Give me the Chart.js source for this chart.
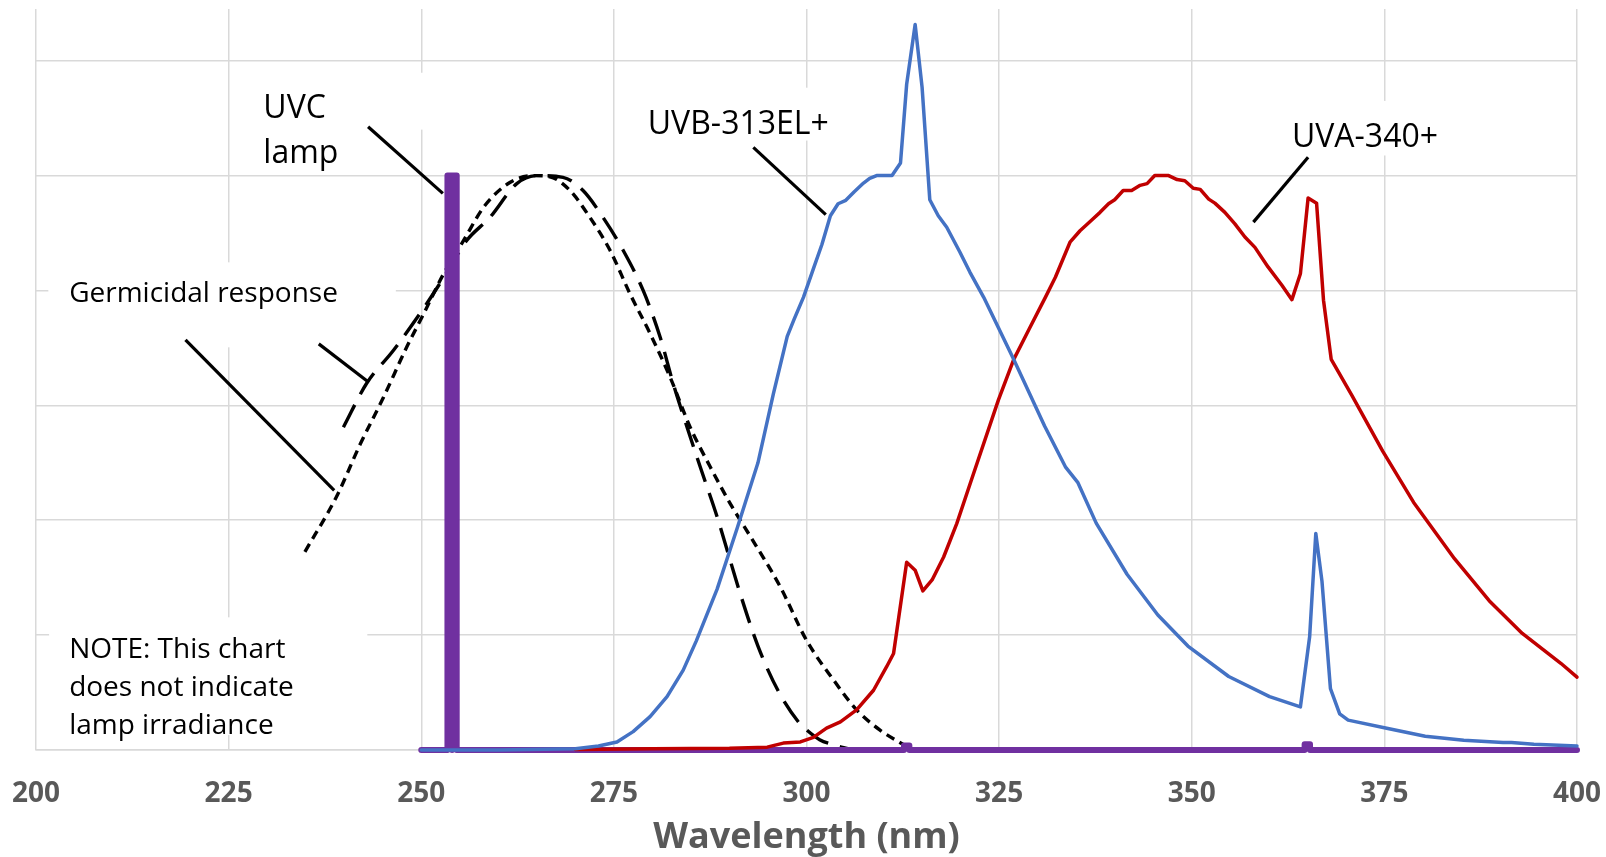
<!DOCTYPE html>
<html>
<head>
<meta charset="utf-8">
<script src="https://cdn.jsdelivr.net/npm/chart.js@4/dist/chart.umd.min.js"></script>
<style>
  html, body { margin: 0; padding: 0; background: #fff; }
  #wrap { width: 1606px; height: 857px; position: relative; }
</style>
</head>
<body>
<div id="wrap"><canvas id="myChart"></canvas></div>
<script>
// UVB-313EL+ lamp spectrum (relative)
var uvbNm  = [250, 260, 270, 273, 275.4, 277.5, 279.7, 281.9, 284, 285.7, 288.4, 291, 293.7, 295.7, 297.5, 298.4, 299.6, 300.9, 302, 303.1, 304.1, 305.1, 306.2, 307.4, 308.2, 309.1, 311.1, 312.2, 313, 314.1, 315, 316, 317.1, 318.2, 319.9, 321.2, 323, 326.9, 330.9, 333.6, 335.2, 337.6, 341.6, 345.6, 349.5, 354.8, 360.1, 364.1, 365.3, 366.1, 366.9, 368, 369.2, 370.3, 375.3, 380.3, 385.3, 390.4, 391.5, 394.4, 400];
var uvbVal = [0, 0, 0.002, 0.007, 0.014, 0.032, 0.058, 0.093, 0.139, 0.19, 0.28, 0.386, 0.5, 0.62, 0.72, 0.75, 0.788, 0.838, 0.88, 0.93, 0.951, 0.957, 0.972, 0.987, 0.995, 1, 1, 1.022, 1.159, 1.263, 1.154, 0.958, 0.93, 0.91, 0.867, 0.832, 0.788, 0.68, 0.564, 0.493, 0.466, 0.395, 0.306, 0.235, 0.181, 0.128, 0.093, 0.075, 0.197, 0.377, 0.294, 0.107, 0.063, 0.052, 0.038, 0.024, 0.017, 0.013, 0.013, 0.01, 0.007];

// UVA-340+ lamp spectrum (relative)
var uvaNm  = [270, 280, 290, 294.9, 297, 299.2, 300.9, 302.6, 304.4, 306.5, 308.7, 310.4, 311.3, 313, 314.1, 315.1, 316.3, 317.8, 319.5, 321.4, 324.9, 326.9, 328.9, 331, 332.3, 334.2, 335.5, 337.2, 338.1, 339.2, 340, 341.1, 342.2, 343.3, 344.2, 345.2, 347, 348.1, 349.1, 350.2, 351.1, 352.2, 353, 354.3, 355.6, 356.9, 358.2, 359.9, 361.7, 363, 364.1, 365.1, 366.2, 367.1, 368.1, 370.8, 374.8, 378.8, 384.1, 388.6, 392.9, 397.9, 400];
var uvaVal = [0.001, 0.002, 0.003, 0.005, 0.012, 0.014, 0.022, 0.038, 0.049, 0.07, 0.104, 0.145, 0.168, 0.327, 0.313, 0.277, 0.296, 0.336, 0.394, 0.47, 0.609, 0.68, 0.733, 0.788, 0.823, 0.884, 0.904, 0.925, 0.936, 0.951, 0.958, 0.974, 0.974, 0.983, 0.986, 1, 1, 0.993, 0.991, 0.978, 0.976, 0.959, 0.952, 0.936, 0.916, 0.893, 0.875, 0.841, 0.809, 0.784, 0.829, 0.961, 0.952, 0.783, 0.68, 0.617, 0.52, 0.431, 0.333, 0.26, 0.203, 0.151, 0.127];

// UVC lamp lines (254, 313, 365 nm)
var uvcNm  = [250, 253.4, 253.4, 254, 254, 254, 254.6, 254.6, 312.65, 312.65, 313.35, 313.35, 364.65, 364.65, 365.35, 365.35, 400];
var uvcVal = [0, 0, 1, 1, 0, 1, 1, 0, 0, 0.008, 0.008, 0, 0, 0.01, 0.01, 0, 0];

// germicidal response, two curves
var germANm  = [234.9, 239, 242.1, 245.1, 248.1, 250.3, 252.9, 255.5, 258.1, 261.5, 264.6, 266.7, 269.3, 271.9, 274.5, 277.1, 279.7, 282.3, 284.9, 287.5, 290.1, 292.7, 296.6, 300, 303.5, 306.5, 309.5, 313];
var germAVal = [0.345, 0.441, 0.533, 0.614, 0.701, 0.759, 0.829, 0.887, 0.945, 0.988, 1, 0.998, 0.974, 0.927, 0.87, 0.794, 0.725, 0.649, 0.562, 0.493, 0.429, 0.372, 0.284, 0.191, 0.122, 0.07, 0.035, 0.006];
var germBNm  = [239.9, 242.9, 246.4, 249.8, 252.8, 255.9, 258.9, 262.4, 265, 268.4, 271, 273.6, 276.2, 278.8, 281, 282.7, 284.5, 286.2, 288.4, 290.1, 291.4, 293.7, 296.4, 299, 300, 301.7, 303.5, 305.5];
var germBVal = [0.562, 0.638, 0.696, 0.759, 0.82, 0.887, 0.927, 0.986, 1, 0.997, 0.974, 0.927, 0.87, 0.8, 0.719, 0.638, 0.562, 0.493, 0.406, 0.33, 0.272, 0.181, 0.101, 0.048, 0.035, 0.018, 0.009, 0.002];

var xTicks = [200, 225, 250, 275, 300, 325, 350, 375, 400];
var yGrid  = [0, 0.2, 0.4, 0.6, 0.8, 1.0, 1.2];

// text labels and leader lines, placed in data units
var labelText = [["UVC", "lamp"], ["UVB-313EL+"], ["UVA-340+"], ["Germicidal response"], ["NOTE: This chart", "does not indicate", "lamp irradiance"]];
var labelNm   = [229.5, 279.4, 363.0, 204.3, 204.3];
var labelVal  = [1.101, 1.073, 1.050, 0.78, 0.16];
var labelSize = [32, 32, 32, 28, 28];
var labelGap  = [45, 0, 0, 0, 38];
var leaders = [
  [243.1, 1.085, 252.8, 0.969],
  [236.7, 0.707, 243.1, 0.641],
  [219.4, 0.714, 238.7, 0.452],
  [293.1, 1.049, 302.5, 0.932],
  [365.1, 1.032, 358.0, 0.919]
];
// white text boxes that hide the grid
var boxes = [
  [227.1, 1.179, 252.5, 1.08],
  [201.6, 0.849, 246.7, 0.701],
  [201.7, 0.231, 243.0, 0.026],
  [278.4, 1.153, 303.3, 1.061],
  [361.5, 1.130, 383.5, 1.035]
];

function pts(xs, ys) {
  return xs.map(function (v, i) { return { x: v, y: ys[i] }; });
}

var notes = {
  id: 'notes',
  beforeDatasetsDraw: function (chart) {
    var ctx = chart.ctx, x = chart.scales.x, y = chart.scales.y;
    ctx.save();
    ctx.fillStyle = '#ffffff';
    boxes.forEach(function (b) {
      var x1 = x.getPixelForValue(b[0]), y1 = y.getPixelForValue(b[1]);
      var x2 = x.getPixelForValue(b[2]), y2 = y.getPixelForValue(b[3]);
      ctx.fillRect(x1, y1, x2 - x1, y2 - y1);
    });
    ctx.restore();
  },
  afterDatasetsDraw: function (chart) {
    var ctx = chart.ctx, x = chart.scales.x, y = chart.scales.y;
    ctx.save();
    ctx.strokeStyle = '#000';
    ctx.lineWidth = 3.2;
    leaders.forEach(function (l) {
      ctx.beginPath();
      ctx.moveTo(x.getPixelForValue(l[0]), y.getPixelForValue(l[1]));
      ctx.lineTo(x.getPixelForValue(l[2]), y.getPixelForValue(l[3]));
      ctx.stroke();
    });
    ctx.fillStyle = '#000';
    ctx.textBaseline = 'alphabetic';
    ctx.textAlign = 'left';
    labelText.forEach(function (lines, i) {
      ctx.font = labelSize[i] + 'px "Open Sans"';
      var px = x.getPixelForValue(labelNm[i]);
      var py = y.getPixelForValue(labelVal[i]);
      lines.forEach(function (t, j) {
        ctx.fillText(t, px, py + j * labelGap[i]);
      });
    });
    ctx.restore();
  }
};

new Chart("myChart", {
  type: "scatter",
  data: {
    datasets: [
      { label: "UVB-313EL+", data: pts(uvbNm, uvbVal), showLine: true, borderColor: "#4472c4", borderWidth: 3.5, pointRadius: 0, borderCapStyle: "round", borderJoinStyle: "round", clip: false },
      { label: "UVA-340+", data: pts(uvaNm, uvaVal), showLine: true, borderColor: "#c00000", borderWidth: 3.5, pointRadius: 0, borderCapStyle: "round", borderJoinStyle: "round", clip: false },
      { label: "UVC lamp", data: pts(uvcNm, uvcVal), showLine: true, borderColor: "#7030a0", borderWidth: 6, pointRadius: 0, borderCapStyle: "round", borderJoinStyle: "round", clip: false },
      { label: "Germicidal A", data: pts(germANm, germAVal), showLine: true, borderColor: "#000", borderWidth: 3.4, borderDash: [9, 6], pointRadius: 0, cubicInterpolationMode: "monotone" },
      { label: "Germicidal B", data: pts(germBNm, germBVal), showLine: true, borderColor: "#000", borderWidth: 3.4, borderDash: [25, 12], pointRadius: 0, cubicInterpolationMode: "monotone" }
    ]
  },
  options: {
    responsive: true,
    maintainAspectRatio: false,
    animation: false,
    layout: { padding: { left: 36, right: 29, top: 9, bottom: 0 } },
    plugins: {
      legend: { display: false },
      tooltip: { enabled: false }
    },
    scales: {
      x: {
        type: "linear",
        min: 200,
        max: 400,
        afterBuildTicks: function (s) { s.ticks = xTicks.map(function (v) { return { value: v }; }); },
        afterFit: function (s) { s.paddingLeft = 0; s.paddingRight = 0; s.height = 107; },
        grid: { color: "#d9d9d9", lineWidth: 1.5, drawTicks: false },
        border: { color: "#d9d9d9", width: 1.5 },
        ticks: { color: "#595959", padding: 27, maxRotation: 0, font: { family: "Open Sans", size: 28, weight: "bold" } },
        title: { display: true, text: "Wavelength (nm)", color: "#595959", padding: { top: 4, bottom: -2 }, font: { family: "Open Sans", size: 36, weight: "bold" } }
      },
      y: {
        min: 0,
        max: 1.29,
        afterBuildTicks: function (s) { s.ticks = yGrid.map(function (v) { return { value: v }; }); },
        afterFit: function (s) { s.width = 0; },
        grid: { color: "#d9d9d9", lineWidth: 1.5, drawTicks: false },
        border: { display: false },
        ticks: { display: false }
      }
    }
  },
  plugins: [notes]
});
</script>
</body>
</html>
